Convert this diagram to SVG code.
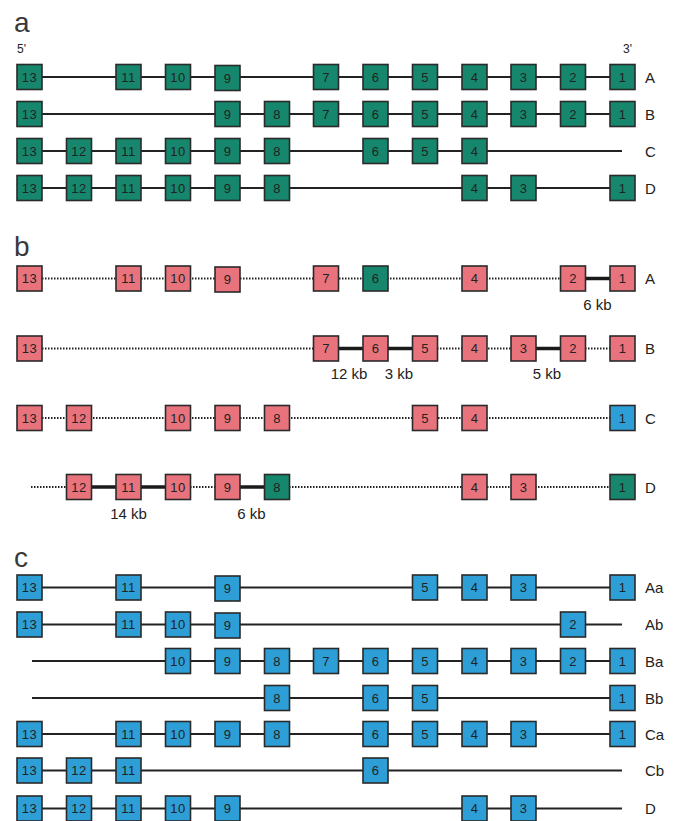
<svg xmlns="http://www.w3.org/2000/svg" width="673" height="821" viewBox="0 0 673 821">
<style>
  .bg{fill:#ffffff}
  .g rect{fill:#16876d}
  .p rect{fill:#e8737d}
  .u rect{fill:#2e9fd6}
  rect.ex{stroke:#2a2a2a;stroke-width:1.6}
  .n text{font-family:"Liberation Sans",Arial,sans-serif;font-size:13px;letter-spacing:0.4px;fill:#222;text-anchor:middle;dominant-baseline:central}
  .ln{stroke:#222;stroke-width:2;fill:none}
  .dt{stroke:#222;stroke-width:2;stroke-dasharray:1.5 1.5;fill:none}
  .tk{stroke:#1a1a1a;stroke-width:3.4;fill:none}
  .hd{font-family:"Liberation Sans",Arial,sans-serif;font-size:28px;fill:#3a3a3a}
  .lb{font-family:"Liberation Sans",Arial,sans-serif;font-size:15px;fill:#222}
  .pr{font-family:"Liberation Sans",Arial,sans-serif;font-size:12px;fill:#222}
  .kb{font-family:"Liberation Sans",Arial,sans-serif;font-size:15px;fill:#222;text-anchor:middle}
</style>
<rect class="bg" x="0" y="0" width="673" height="821"/>

<!-- headings -->
<text class="hd" x="14" y="32">a</text>
<text class="pr" x="17" y="53">5'</text>
<text class="pr" x="623" y="53">3'</text>
<text class="hd" x="14" y="256">b</text>
<text class="hd" x="14" y="567">c</text>

<!-- row labels -->
<g id="labels">
<text class="lb" x="645" y="82.5">A</text>
<text class="lb" x="645" y="119.5">B</text>
<text class="lb" x="645" y="156.5">C</text>
<text class="lb" x="645" y="193.5">D</text>
<text class="lb" x="645" y="284">A</text>
<text class="lb" x="645" y="354">B</text>
<text class="lb" x="645" y="423.5">C</text>
<text class="lb" x="645" y="492.5">D</text>
<text class="lb" x="645" y="593">Aa</text>
<text class="lb" x="645" y="630">Ab</text>
<text class="lb" x="645" y="666.5">Ba</text>
<text class="lb" x="645" y="703.5">Bb</text>
<text class="lb" x="645" y="739.5">Ca</text>
<text class="lb" x="645" y="776">Cb</text>
<text class="lb" x="645" y="814">D</text>
</g>

<!-- connectors -->
<g id="connectors">
  <line class="ln" x1="29.5" y1="77" x2="622.5" y2="77"/>
  <line class="ln" x1="29.5" y1="114" x2="622.5" y2="114"/>
  <line class="ln" x1="29.5" y1="151" x2="622" y2="151"/>
  <line class="ln" x1="29.5" y1="188" x2="622.5" y2="188"/>

  <line class="dt" x1="42" y1="278.5" x2="560" y2="278.5"/>
  <line class="tk" x1="573" y1="278.5" x2="622.5" y2="278.5"/>

  <line class="dt" x1="42" y1="348.5" x2="313" y2="348.5"/>
  <line class="tk" x1="326" y1="348.5" x2="425" y2="348.5"/>
  <line class="dt" x1="437" y1="348.5" x2="511" y2="348.5"/>
  <line class="tk" x1="523.5" y1="348.5" x2="573" y2="348.5"/>
  <line class="dt" x1="585" y1="348.5" x2="610" y2="348.5"/>

  <line class="dt" x1="42" y1="418" x2="610" y2="418"/>

  <line class="dt" x1="31" y1="487" x2="66" y2="487"/>
  <line class="tk" x1="79" y1="487" x2="178" y2="487"/>
  <line class="dt" x1="190" y1="487" x2="215" y2="487"/>
  <line class="tk" x1="227.5" y1="487" x2="277" y2="487"/>
  <line class="dt" x1="289" y1="487" x2="610" y2="487"/>

  <line class="ln" x1="29.5" y1="587.5" x2="622.5" y2="587.5"/>
  <line class="ln" x1="29.5" y1="624.5" x2="622" y2="624.5"/>
  <line class="ln" x1="32" y1="661" x2="622.5" y2="661"/>
  <line class="ln" x1="32" y1="698" x2="622.5" y2="698"/>
  <line class="ln" x1="29.5" y1="734" x2="622.5" y2="734"/>
  <line class="ln" x1="29.5" y1="770.5" x2="622" y2="770.5"/>
  <line class="ln" x1="29.5" y1="808.5" x2="622" y2="808.5"/>
</g>

<!-- kb labels -->
<g id="kb">
<text class="kb" x="597.5" y="310">6 kb</text>
<text class="kb" x="349" y="379">12 kb</text>
<text class="kb" x="399" y="379">3 kb</text>
<text class="kb" x="547" y="379">5 kb</text>
<text class="kb" x="128.5" y="519">14 kb</text>
<text class="kb" x="251.5" y="519">6 kb</text>
</g>

<!-- section a -->
<g id="a-A" class="g">
<g id="aA13" class="n"><rect class="ex" x="17" y="64.5" width="25" height="25"/><text x="29.5" y="77">13</text></g>
<g id="aA11" class="n"><rect class="ex" x="116" y="64.5" width="25" height="25"/><text x="128.5" y="77">11</text></g>
<g id="aA10" class="n"><rect class="ex" x="165.5" y="64.5" width="25" height="25"/><text x="178" y="77">10</text></g>
<g id="aA9" class="n"><rect class="ex" x="215" y="65.5" width="25" height="25"/><text x="227.5" y="78">9</text></g>
<g id="aA7" class="n"><rect class="ex" x="313.5" y="64.5" width="25" height="25"/><text x="326" y="77">7</text></g>
<g id="aA6" class="n"><rect class="ex" x="363" y="64.5" width="25" height="25"/><text x="375.5" y="77">6</text></g>
<g id="aA5" class="n"><rect class="ex" x="412.5" y="64.5" width="25" height="25"/><text x="425" y="77">5</text></g>
<g id="aA4" class="n"><rect class="ex" x="462" y="64.5" width="25" height="25"/><text x="474.5" y="77">4</text></g>
<g id="aA3" class="n"><rect class="ex" x="511" y="64.5" width="25" height="25"/><text x="523.5" y="77">3</text></g>
<g id="aA2" class="n"><rect class="ex" x="560.5" y="64.5" width="25" height="25"/><text x="573" y="77">2</text></g>
<g id="aA1" class="n"><rect class="ex" x="610" y="64.5" width="25" height="25"/><text x="622.5" y="77">1</text></g>
</g>
<g id="a-B" class="g">
<g id="aB13" class="n"><rect class="ex" x="17" y="101.5" width="25" height="25"/><text x="29.5" y="114">13</text></g>
<g id="aB9" class="n"><rect class="ex" x="215" y="101.5" width="25" height="25"/><text x="227.5" y="114">9</text></g>
<g id="aB8" class="n"><rect class="ex" x="264.5" y="101.5" width="25" height="25"/><text x="277" y="114">8</text></g>
<g id="aB7" class="n"><rect class="ex" x="313.5" y="101.5" width="25" height="25"/><text x="326" y="114">7</text></g>
<g id="aB6" class="n"><rect class="ex" x="363" y="101.5" width="25" height="25"/><text x="375.5" y="114">6</text></g>
<g id="aB5" class="n"><rect class="ex" x="412.5" y="101.5" width="25" height="25"/><text x="425" y="114">5</text></g>
<g id="aB4" class="n"><rect class="ex" x="462" y="101.5" width="25" height="25"/><text x="474.5" y="114">4</text></g>
<g id="aB3" class="n"><rect class="ex" x="511" y="101.5" width="25" height="25"/><text x="523.5" y="114">3</text></g>
<g id="aB2" class="n"><rect class="ex" x="560.5" y="101.5" width="25" height="25"/><text x="573" y="114">2</text></g>
<g id="aB1" class="n"><rect class="ex" x="610" y="101.5" width="25" height="25"/><text x="622.5" y="114">1</text></g>
</g>
<g id="a-C" class="g">
<g id="aC13" class="n"><rect class="ex" x="17" y="138.5" width="25" height="25"/><text x="29.5" y="151">13</text></g>
<g id="aC12" class="n"><rect class="ex" x="66.5" y="138.5" width="25" height="25"/><text x="79" y="151">12</text></g>
<g id="aC11" class="n"><rect class="ex" x="116" y="138.5" width="25" height="25"/><text x="128.5" y="151">11</text></g>
<g id="aC10" class="n"><rect class="ex" x="165.5" y="138.5" width="25" height="25"/><text x="178" y="151">10</text></g>
<g id="aC9" class="n"><rect class="ex" x="215" y="138.5" width="25" height="25"/><text x="227.5" y="151">9</text></g>
<g id="aC8" class="n"><rect class="ex" x="264.5" y="138.5" width="25" height="25"/><text x="277" y="151">8</text></g>
<g id="aC6" class="n"><rect class="ex" x="363" y="138.5" width="25" height="25"/><text x="375.5" y="151">6</text></g>
<g id="aC5" class="n"><rect class="ex" x="412.5" y="138.5" width="25" height="25"/><text x="425" y="151">5</text></g>
<g id="aC4" class="n"><rect class="ex" x="462" y="138.5" width="25" height="25"/><text x="474.5" y="151">4</text></g>
</g>
<g id="a-D" class="g">
<g id="aD13" class="n"><rect class="ex" x="17" y="175.5" width="25" height="25"/><text x="29.5" y="188">13</text></g>
<g id="aD12" class="n"><rect class="ex" x="66.5" y="175.5" width="25" height="25"/><text x="79" y="188">12</text></g>
<g id="aD11" class="n"><rect class="ex" x="116" y="175.5" width="25" height="25"/><text x="128.5" y="188">11</text></g>
<g id="aD10" class="n"><rect class="ex" x="165.5" y="175.5" width="25" height="25"/><text x="178" y="188">10</text></g>
<g id="aD9" class="n"><rect class="ex" x="215" y="175.5" width="25" height="25"/><text x="227.5" y="188">9</text></g>
<g id="aD8" class="n"><rect class="ex" x="264.5" y="175.5" width="25" height="25"/><text x="277" y="188">8</text></g>
<g id="aD4" class="n"><rect class="ex" x="462" y="175.5" width="25" height="25"/><text x="474.5" y="188">4</text></g>
<g id="aD3" class="n"><rect class="ex" x="511" y="175.5" width="25" height="25"/><text x="523.5" y="188">3</text></g>
<g id="aD1" class="n"><rect class="ex" x="610" y="175.5" width="25" height="25"/><text x="622.5" y="188">1</text></g>
</g>

<!-- section b -->
<g id="b-A">
<g id="bA13" class="n p"><rect class="ex" x="17" y="266" width="25" height="25"/><text x="29.5" y="278.5">13</text></g>
<g id="bA11" class="n p"><rect class="ex" x="116" y="266" width="25" height="25"/><text x="128.5" y="278.5">11</text></g>
<g id="bA10" class="n p"><rect class="ex" x="165.5" y="266" width="25" height="25"/><text x="178" y="278.5">10</text></g>
<g id="bA9" class="n p"><rect class="ex" x="215" y="267" width="25" height="25"/><text x="227.5" y="279.5">9</text></g>
<g id="bA7" class="n p"><rect class="ex" x="313.5" y="266" width="25" height="25"/><text x="326" y="278.5">7</text></g>
<g id="bA6" class="n g"><rect class="ex" x="363" y="266" width="25" height="25"/><text x="375.5" y="278.5">6</text></g>
<g id="bA4" class="n p"><rect class="ex" x="462" y="266" width="25" height="25"/><text x="474.5" y="278.5">4</text></g>
<g id="bA2" class="n p"><rect class="ex" x="560.5" y="266" width="25" height="25"/><text x="573" y="278.5">2</text></g>
<g id="bA1" class="n p"><rect class="ex" x="610" y="266" width="25" height="25"/><text x="622.5" y="278.5">1</text></g>
</g>
<g id="b-B" class="p">
<g id="bB13" class="n"><rect class="ex" x="17" y="336" width="25" height="25"/><text x="29.5" y="348.5">13</text></g>
<g id="bB7" class="n"><rect class="ex" x="313.5" y="336" width="25" height="25"/><text x="326" y="348.5">7</text></g>
<g id="bB6" class="n"><rect class="ex" x="363" y="336" width="25" height="25"/><text x="375.5" y="348.5">6</text></g>
<g id="bB5" class="n"><rect class="ex" x="412.5" y="336" width="25" height="25"/><text x="425" y="348.5">5</text></g>
<g id="bB4" class="n"><rect class="ex" x="462" y="336" width="25" height="25"/><text x="474.5" y="348.5">4</text></g>
<g id="bB3" class="n"><rect class="ex" x="511" y="336" width="25" height="25"/><text x="523.5" y="348.5">3</text></g>
<g id="bB2" class="n"><rect class="ex" x="560.5" y="336" width="25" height="25"/><text x="573" y="348.5">2</text></g>
<g id="bB1" class="n"><rect class="ex" x="610" y="336" width="25" height="25"/><text x="622.5" y="348.5">1</text></g>
</g>
<g id="b-C">
<g id="bC13" class="n p"><rect class="ex" x="17" y="405.5" width="25" height="25"/><text x="29.5" y="418">13</text></g>
<g id="bC12" class="n p"><rect class="ex" x="66.5" y="405.5" width="25" height="25"/><text x="79" y="418">12</text></g>
<g id="bC10" class="n p"><rect class="ex" x="165.5" y="405.5" width="25" height="25"/><text x="178" y="418">10</text></g>
<g id="bC9" class="n p"><rect class="ex" x="215" y="405.5" width="25" height="25"/><text x="227.5" y="418">9</text></g>
<g id="bC8" class="n p"><rect class="ex" x="264.5" y="405.5" width="25" height="25"/><text x="277" y="418">8</text></g>
<g id="bC5" class="n p"><rect class="ex" x="412.5" y="405.5" width="25" height="25"/><text x="425" y="418">5</text></g>
<g id="bC4" class="n p"><rect class="ex" x="462" y="405.5" width="25" height="25"/><text x="474.5" y="418">4</text></g>
<g id="bC1" class="n u"><rect class="ex" x="610" y="405.5" width="25" height="25"/><text x="622.5" y="418">1</text></g>
</g>
<g id="b-D">
<g id="bD12" class="n p"><rect class="ex" x="66.5" y="474.5" width="25" height="25"/><text x="79" y="487">12</text></g>
<g id="bD11" class="n p"><rect class="ex" x="116" y="474.5" width="25" height="25"/><text x="128.5" y="487">11</text></g>
<g id="bD10" class="n p"><rect class="ex" x="165.5" y="474.5" width="25" height="25"/><text x="178" y="487">10</text></g>
<g id="bD9" class="n p"><rect class="ex" x="215" y="474.5" width="25" height="25"/><text x="227.5" y="487">9</text></g>
<g id="bD8" class="n g"><rect class="ex" x="264.5" y="474.5" width="25" height="25"/><text x="277" y="487">8</text></g>
<g id="bD4" class="n p"><rect class="ex" x="462" y="474.5" width="25" height="25"/><text x="474.5" y="487">4</text></g>
<g id="bD3" class="n p"><rect class="ex" x="511" y="474.5" width="25" height="25"/><text x="523.5" y="487">3</text></g>
<g id="bD1" class="n g"><rect class="ex" x="610" y="474.5" width="25" height="25"/><text x="622.5" y="487">1</text></g>
</g>

<!-- section c -->
<g id="c-Aa" class="u">
<g id="cAa13" class="n"><rect class="ex" x="17" y="575" width="25" height="25"/><text x="29.5" y="587.5">13</text></g>
<g id="cAa11" class="n"><rect class="ex" x="116" y="575" width="25" height="25"/><text x="128.5" y="587.5">11</text></g>
<g id="cAa9" class="n"><rect class="ex" x="215" y="576" width="25" height="25"/><text x="227.5" y="588.5">9</text></g>
<g id="cAa5" class="n"><rect class="ex" x="412.5" y="575" width="25" height="25"/><text x="425" y="587.5">5</text></g>
<g id="cAa4" class="n"><rect class="ex" x="462" y="575" width="25" height="25"/><text x="474.5" y="587.5">4</text></g>
<g id="cAa3" class="n"><rect class="ex" x="511" y="575" width="25" height="25"/><text x="523.5" y="587.5">3</text></g>
<g id="cAa1" class="n"><rect class="ex" x="610" y="575" width="25" height="25"/><text x="622.5" y="587.5">1</text></g>
</g>
<g id="c-Ab" class="u">
<g id="cAb13" class="n"><rect class="ex" x="17" y="612" width="25" height="25"/><text x="29.5" y="624.5">13</text></g>
<g id="cAb11" class="n"><rect class="ex" x="116" y="612" width="25" height="25"/><text x="128.5" y="624.5">11</text></g>
<g id="cAb10" class="n"><rect class="ex" x="165.5" y="612" width="25" height="25"/><text x="178" y="624.5">10</text></g>
<g id="cAb9" class="n"><rect class="ex" x="215" y="613" width="25" height="25"/><text x="227.5" y="625.5">9</text></g>
<g id="cAb2" class="n"><rect class="ex" x="560.5" y="612" width="25" height="25"/><text x="573" y="624.5">2</text></g>
</g>
<g id="c-Ba" class="u">
<g id="cBa10" class="n"><rect class="ex" x="165.5" y="648.5" width="25" height="25"/><text x="178" y="661">10</text></g>
<g id="cBa9" class="n"><rect class="ex" x="215" y="648.5" width="25" height="25"/><text x="227.5" y="661">9</text></g>
<g id="cBa8" class="n"><rect class="ex" x="264.5" y="648.5" width="25" height="25"/><text x="277" y="661">8</text></g>
<g id="cBa7" class="n"><rect class="ex" x="313.5" y="648.5" width="25" height="25"/><text x="326" y="661">7</text></g>
<g id="cBa6" class="n"><rect class="ex" x="363" y="648.5" width="25" height="25"/><text x="375.5" y="661">6</text></g>
<g id="cBa5" class="n"><rect class="ex" x="412.5" y="648.5" width="25" height="25"/><text x="425" y="661">5</text></g>
<g id="cBa4" class="n"><rect class="ex" x="462" y="648.5" width="25" height="25"/><text x="474.5" y="661">4</text></g>
<g id="cBa3" class="n"><rect class="ex" x="511" y="648.5" width="25" height="25"/><text x="523.5" y="661">3</text></g>
<g id="cBa2" class="n"><rect class="ex" x="560.5" y="648.5" width="25" height="25"/><text x="573" y="661">2</text></g>
<g id="cBa1" class="n"><rect class="ex" x="610" y="648.5" width="25" height="25"/><text x="622.5" y="661">1</text></g>
</g>
<g id="c-Bb" class="u">
<g id="cBb8" class="n"><rect class="ex" x="264.5" y="685.5" width="25" height="25"/><text x="277" y="698">8</text></g>
<g id="cBb6" class="n"><rect class="ex" x="363" y="685.5" width="25" height="25"/><text x="375.5" y="698">6</text></g>
<g id="cBb5" class="n"><rect class="ex" x="412.5" y="685.5" width="25" height="25"/><text x="425" y="698">5</text></g>
<g id="cBb1" class="n"><rect class="ex" x="610" y="685.5" width="25" height="25"/><text x="622.5" y="698">1</text></g>
</g>
<g id="c-Ca" class="u">
<g id="cCa13" class="n"><rect class="ex" x="17" y="721.5" width="25" height="25"/><text x="29.5" y="734">13</text></g>
<g id="cCa11" class="n"><rect class="ex" x="116" y="721.5" width="25" height="25"/><text x="128.5" y="734">11</text></g>
<g id="cCa10" class="n"><rect class="ex" x="165.5" y="721.5" width="25" height="25"/><text x="178" y="734">10</text></g>
<g id="cCa9" class="n"><rect class="ex" x="215" y="721.5" width="25" height="25"/><text x="227.5" y="734">9</text></g>
<g id="cCa8" class="n"><rect class="ex" x="264.5" y="721.5" width="25" height="25"/><text x="277" y="734">8</text></g>
<g id="cCa6" class="n"><rect class="ex" x="363" y="721.5" width="25" height="25"/><text x="375.5" y="734">6</text></g>
<g id="cCa5" class="n"><rect class="ex" x="412.5" y="721.5" width="25" height="25"/><text x="425" y="734">5</text></g>
<g id="cCa4" class="n"><rect class="ex" x="462" y="721.5" width="25" height="25"/><text x="474.5" y="734">4</text></g>
<g id="cCa3" class="n"><rect class="ex" x="511" y="721.5" width="25" height="25"/><text x="523.5" y="734">3</text></g>
<g id="cCa1" class="n"><rect class="ex" x="610" y="721.5" width="25" height="25"/><text x="622.5" y="734">1</text></g>
</g>
<g id="c-Cb" class="u">
<g id="cCb13" class="n"><rect class="ex" x="17" y="758" width="25" height="25"/><text x="29.5" y="770.5">13</text></g>
<g id="cCb12" class="n"><rect class="ex" x="66.5" y="758" width="25" height="25"/><text x="79" y="770.5">12</text></g>
<g id="cCb11" class="n"><rect class="ex" x="116" y="758" width="25" height="25"/><text x="128.5" y="770.5">11</text></g>
<g id="cCb6" class="n"><rect class="ex" x="363" y="758" width="25" height="25"/><text x="375.5" y="770.5">6</text></g>
</g>
<g id="c-D" class="u">
<g id="cD13" class="n"><rect class="ex" x="17" y="796" width="25" height="25"/><text x="29.5" y="808.5">13</text></g>
<g id="cD12" class="n"><rect class="ex" x="66.5" y="796" width="25" height="25"/><text x="79" y="808.5">12</text></g>
<g id="cD11" class="n"><rect class="ex" x="116" y="796" width="25" height="25"/><text x="128.5" y="808.5">11</text></g>
<g id="cD10" class="n"><rect class="ex" x="165.5" y="796" width="25" height="25"/><text x="178" y="808.5">10</text></g>
<g id="cD9" class="n"><rect class="ex" x="215" y="796" width="25" height="25"/><text x="227.5" y="808.5">9</text></g>
<g id="cD4" class="n"><rect class="ex" x="462" y="796" width="25" height="25"/><text x="474.5" y="808.5">4</text></g>
<g id="cD3" class="n"><rect class="ex" x="511" y="796" width="25" height="25"/><text x="523.5" y="808.5">3</text></g>
</g>
</svg>
